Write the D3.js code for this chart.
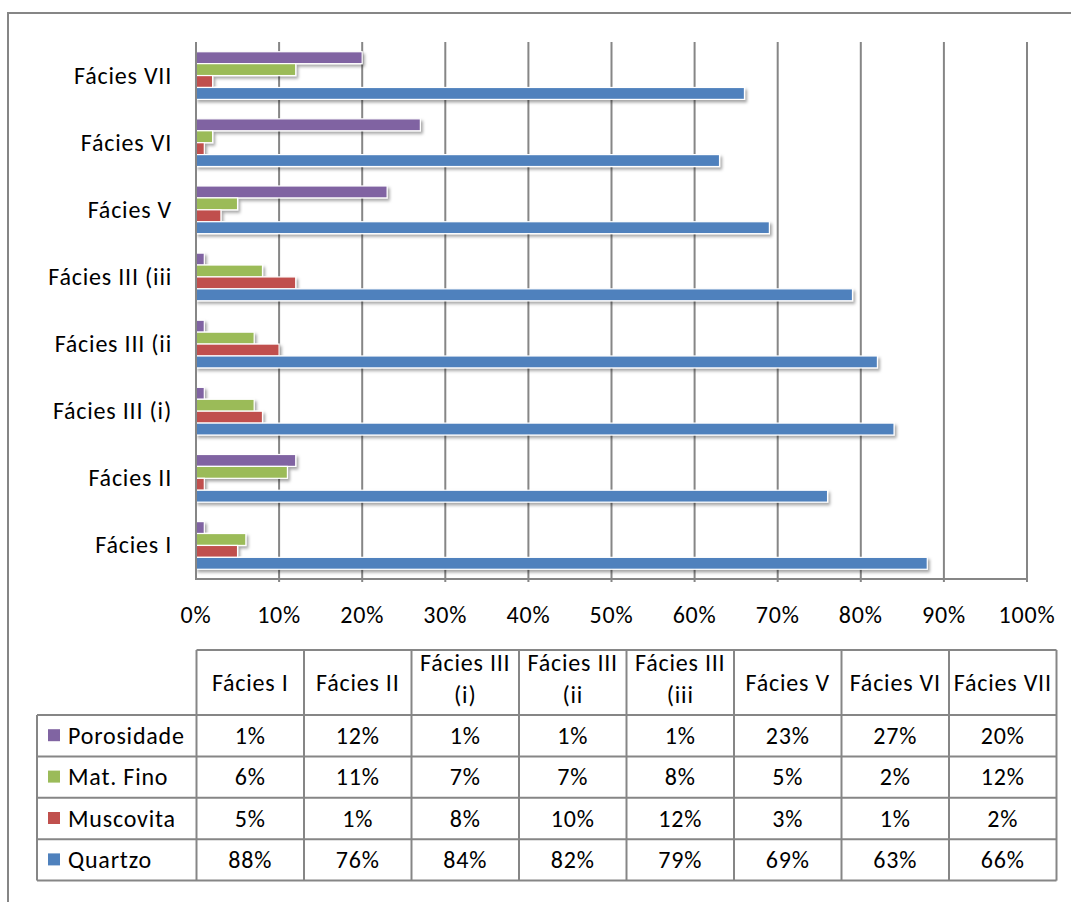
<!DOCTYPE html>
<html>
<head>
<meta charset="utf-8">
<script src="https://cdn.jsdelivr.net/npm/d3@7/dist/d3.min.js"></script>
<style>
  html, body { margin: 0; padding: 0; background: #fff; }
  svg text { font-family: Carlito, Calibri, Lato, "Open Sans", sans-serif; fill: #000; letter-spacing: 0.8px; }
</style>
</head>
<body>
<svg id="chart" width="1071" height="902"></svg>
<script>
// Facies (bottom to top on the bar chart, left to right in the table)
const categories = ["Fácies I", "Fácies II", "Fácies III (i)", "Fácies III (ii", "Fácies III (iii", "Fácies V", "Fácies VI", "Fácies VII"];

// Series names, in table/legend order (top row first)
const seriesNames = ["Porosidade", "Mat. Fino", "Muscovita", "Quartzo"];
const seriesColors = ["#8064A2", "#9BBB59", "#C0504D", "#4F81BD"];

// Percentages per facies
const porosidade = [1, 12, 1, 1, 1, 23, 27, 20];
const matFino    = [6, 11, 7, 7, 8, 5, 2, 12];
const muscovita  = [5, 1, 8, 10, 12, 3, 1, 2];
const quartzo    = [88, 76, 84, 82, 79, 69, 63, 66];

// Axis ticks
const xTicks = [0, 10, 20, 30, 40, 50, 60, 70, 80, 90, 100];

const seriesValues = [porosidade, matFino, muscovita, quartzo];

const svg = d3.select("#chart");
const FS = 24;
const gridColor = "#868686";

// Frame
svg.append("path")
  .attr("d", "M8,902 L8,13 L1071,13")
  .attr("fill", "none").attr("stroke", gridColor).attr("stroke-width", 2);

// Drop shadow for bars
const defs = svg.append("defs");
const f = defs.append("filter").attr("id", "shadow")
  .attr("x", "-5%").attr("y", "-40%").attr("width", "115%").attr("height", "200%");
f.append("feDropShadow").attr("dx", 2).attr("dy", 2.5).attr("stdDeviation", 1.6)
  .attr("flood-color", "#000").attr("flood-opacity", 0.35);

// Plot area
const plot = { left: 196, right: 1027, top: 42, bottom: 579 };

const x = d3.scaleLinear().domain([0, 100]).range([plot.left, plot.right]);
const y = d3.scaleBand().domain(categories).range([plot.bottom, plot.top])
  .paddingInner(0.29).paddingOuter(0.145);
const ySub = d3.scaleBand().domain(seriesNames).range([0, y.bandwidth()]);

// Vertical gridlines
svg.append("g").selectAll("line").data(xTicks.filter(d => d > 0)).join("line")
  .attr("x1", d => x(d)).attr("x2", d => x(d))
  .attr("y1", plot.top).attr("y2", plot.bottom + 3)
  .attr("stroke", gridColor).attr("stroke-width", 2);

// Bars
const bars = svg.append("g").attr("filter", "url(#shadow)");
seriesNames.forEach((name, si) => {
  bars.append("g").selectAll("rect").data(categories).join("rect")
    .attr("x", x(0))
    .attr("y", (c) => y(c) + ySub(name))
    .attr("width", (c, i) => x(seriesValues[si][i]) - x(0))
    .attr("height", ySub.bandwidth())
    .attr("fill", seriesColors[si])
    .attr("stroke", "#fff").attr("stroke-width", 1.2);
});

// Axis lines
svg.append("line").attr("x1", plot.left).attr("x2", plot.right)
  .attr("y1", plot.bottom).attr("y2", plot.bottom)
  .attr("stroke", gridColor).attr("stroke-width", 2);
svg.append("line").attr("x1", plot.left).attr("x2", plot.left)
  .attr("y1", plot.top).attr("y2", plot.bottom + 1)
  .attr("stroke", gridColor).attr("stroke-width", 2);

// Category labels
svg.append("g").selectAll("text").data(categories).join("text")
  .attr("x", 172)
  .attr("y", d => y(d) + y.bandwidth() / 2 + 8)
  .attr("text-anchor", "end").attr("font-size", FS)
  .text(d => d);

// Value axis labels
svg.append("g").selectAll("text").data(xTicks).join("text")
  .attr("x", d => x(d)).attr("y", 623)
  .attr("text-anchor", "middle").attr("font-size", FS)
  .text(d => d + "%");

// Data table
const tbl = { left: 37, colStart: 196.5, colW: 107.5, headTop: 650, headBottom: 715, rowH: 41.4 };
const colX = i => tbl.colStart + i * tbl.colW;
const rowY = r => tbl.headBottom + r * tbl.rowH;
const tableRight = colX(categories.length);
const tableBottom = rowY(seriesNames.length);
const tg = svg.append("g");
const tStroke = { stroke: gridColor, w: 2 };

// horizontal rules
tg.append("line").attr("x1", colX(0)).attr("x2", tableRight)
  .attr("y1", tbl.headTop).attr("y2", tbl.headTop)
  .attr("stroke", tStroke.stroke).attr("stroke-width", tStroke.w);
d3.range(seriesNames.length + 1).forEach(r => {
  tg.append("line").attr("x1", tbl.left).attr("x2", tableRight)
    .attr("y1", rowY(r)).attr("y2", rowY(r))
    .attr("stroke", tStroke.stroke).attr("stroke-width", tStroke.w);
});
// vertical rules
tg.append("line").attr("x1", tbl.left).attr("x2", tbl.left)
  .attr("y1", tbl.headBottom).attr("y2", tableBottom)
  .attr("stroke", tStroke.stroke).attr("stroke-width", tStroke.w);
d3.range(categories.length + 1).forEach(c => {
  tg.append("line").attr("x1", colX(c)).attr("x2", colX(c))
    .attr("y1", tbl.headTop).attr("y2", tableBottom)
    .attr("stroke", tStroke.stroke).attr("stroke-width", tStroke.w);
});

// header cells (long names wrap before the parenthesis)
categories.forEach((c, i) => {
  const cx = colX(i) + tbl.colW / 2;
  const k = c.indexOf(" (");
  const t = tg.append("text").attr("text-anchor", "middle").attr("font-size", FS);
  if (k >= 0) {
    t.append("tspan").attr("x", cx).attr("y", 671).text(c.slice(0, k));
    t.append("tspan").attr("x", cx).attr("y", 703).text(c.slice(k + 1));
  } else {
    t.attr("x", cx).attr("y", 691).text(c);
  }
});

// series rows with legend keys
seriesNames.forEach((name, r) => {
  const cy = rowY(r) + tbl.rowH / 2;
  tg.append("rect").attr("x", 48).attr("y", cy - 6.5).attr("width", 12).attr("height", 12)
    .attr("fill", seriesColors[r]);
  tg.append("text").attr("x", 68).attr("y", cy + 8).attr("font-size", FS).text(name);
  seriesValues[r].forEach((v, i) => {
    tg.append("text").attr("x", colX(i) + tbl.colW / 2).attr("y", cy + 8)
      .attr("text-anchor", "middle").attr("font-size", FS).text(v + "%");
  });
});
</script>
</body>
</html>
